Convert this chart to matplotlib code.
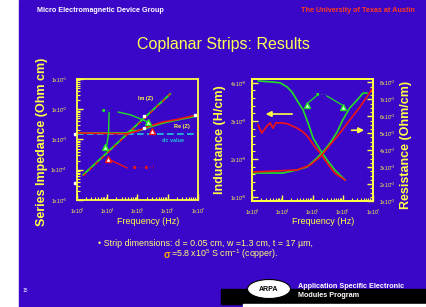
import numpy as np
import matplotlib.pyplot as plt
from matplotlib.patches import Rectangle, Ellipse
from matplotlib.ticker import AutoMinorLocator, LogLocator, NullFormatter

plt.rcParams['font.family'] = ['Liberation Sans', 'DejaVu Sans']
plt.rcParams['mathtext.fontset'] = 'custom'
plt.rcParams['mathtext.rm'] = 'Liberation Sans'
plt.rcParams['mathtext.default'] = 'regular'

# ---- left plot: series impedance (Ohm/cm) vs frequency (Hz)
im_f = [1.6e3, 1e4, 1e5, 1e6, 1.2e6]
im_z_green = [6.8e-5, 3.7e-4, 3.2e-3, 2.7e-2, 3.2e-2]
im_z_red = [6.2e-5, 3.5e-4, 3.0e-3, 2.6e-2, 3.3e-2]
re_f_green = [1e3, 4.5e4, 5.6e4, 1.2e5, 2.6e5, 6.9e5, 2.0e6, 9.3e6]
re_z_green = [1.64e-3, 1.64e-3, 1.9e-3, 2.0e-3, 2.6e-3, 3.5e-3, 4.4e-3, 6.0e-3]
re_f_red = [1e3, 4.5e4, 9.6e4, 2.6e5, 6.9e5, 2.0e6, 9.3e6]
re_z_red = [1.64e-3, 1.55e-3, 1.9e-3, 2.8e-3, 3.8e-3, 4.6e-3, 6.5e-3]
dc_f = [1e3, 1e7]
dc_z = [1.5e-3, 1.5e-3]
freq_ticks = [1e3, 1e4, 1e5, 1e6, 1e7]
freq_labels = [r"1x10$^{3}$", r"1x10$^{4}$", r"1x10$^{5}$", r"1x10$^{6}$", r"1x10$^{7}$"]
z_ticks = [1e-5, 1e-4, 1e-3, 1e-2, 1e-1]
z_labels = [r"1x10$^{-5}$", r"1x10$^{-4}$", r"1x10$^{-3}$", r"1x10$^{-2}$", r"1x10$^{-1}$"]

# ---- right plot: inductance (left axis) and resistance (right axis)
l_f_green = [1.6e3, 4.9e3, 8.5e3, 1.45e4, 2.1e4, 3.3e4, 4.9e4, 7.1e4, 1.05e5, 1.8e5, 3.0e5, 5.5e5, 1.2e6]
l_green = [4.05, 4.02, 4.0, 3.89, 3.76, 3.50, 3.29, 2.95, 2.55, 2.24, 1.98, 1.71, 1.45]
l_f_red = [1.6e3, 2.1e3, 2.9e3, 4.0e3, 4.9e3, 6.2e3, 9.8e3, 1.55e4, 3.1e4, 4.9e4, 7.1e4,
           1.2e5, 1.8e5, 3.0e5, 5.5e5, 1.2e6]
l_red = [2.89, 2.68, 2.84, 2.95, 2.81, 2.95, 2.95, 2.92, 2.81, 2.71, 2.58, 2.32, 2.16, 1.90, 1.63, 1.45]
r_f_green = [1e3, 1.05e4, 3.1e4, 6.6e4, 1.4e5, 2.2e5, 3.8e5, 6.5e5, 1.0e6, 1.7e6, 3.0e6, 4.7e6, 6.3e6]
r_green = [2.65, 2.65, 2.83, 3.01, 3.54, 3.89, 4.42, 5.07, 5.78, 6.49, 6.96, 7.37, 7.37]
r_f_red = [1e3, 3.1e4, 8.3e4, 1.8e5, 3.8e5, 8.1e5, 1.7e6, 3.7e6, 1e7]
r_red = [2.71, 2.83, 3.12, 3.60, 4.31, 5.01, 5.78, 6.55, 7.67]
l_ticks = [1, 2, 3, 4]
l_labels = [r"%dx10$^{-8}$" % k for k in l_ticks]
r_ticks = [1, 2, 3, 4, 5, 6, 7, 8]
r_labels = [r"%dx10$^{-3}$" % k for k in r_ticks]

W, H = 427, 307
YEL = '#ffff44'
GRN = '#22e022'
RED = '#f01414'
CYA = '#22c8d8'
PUR = '#3a06c8'

fig = plt.figure(figsize=(W / 100, H / 100), dpi=100)
bg = fig.add_axes([0, 0, 1, 1])
bg.set_xlim(0, W)
bg.set_ylim(H, 0)
bg.axis('off')

# slide background
bg.add_patch(Rectangle((0, 0), W, H, color='white'))
bg.add_patch(Rectangle((19, 0), W - 19, H, color=PUR))
yy, xx = np.mgrid[19:288, 35:411]
d = np.sqrt(((xx - 215) / 230.0) ** 2 + ((yy - 130) / 165.0) ** 2)
t = np.clip(1 - d, 0, 1) ** 1.2
grad = t[..., None] * np.array([0.17, 0.07, 0.52])
bg.imshow(grad, extent=(35, 411, 288, 19), origin='upper', aspect='auto')
hy, hx = np.mgrid[0:19, 19:320]
glow = np.exp(-((hx - 125) / 100.0) ** 2 - ((hy - 11) / 4.5) ** 2)
rgba = np.zeros(glow.shape + (4,))
rgba[..., 0], rgba[..., 1], rgba[..., 2] = 0.92, 0.3, 0.45
rgba[..., 3] = glow * 0.9
bg.imshow(rgba, extent=(19, 320, 19, 0), origin='upper', aspect='auto')
bg.add_patch(Rectangle((219, 272), W - 219, 17, color=PUR))
bg.add_patch(Rectangle((221, 289), W - 221, 15, color='black'))
bg.add_patch(Rectangle((243, 304), W - 243, 3, color='white'))
bg.set_xlim(0, W)
bg.set_ylim(H, 0)

bg.text(37, 11, "Micro Electromagnetic Device Group", color='white', fontsize=5.2,
        fontweight='bold', ha='left', va='center')
bg.text(415, 11, "The University of Texas at Austin", color='#ff3a1a', fontsize=5.2,
        fontweight='bold', ha='right', va='center')
bg.text(223, 44, "Coplanar Strips: Results", color='#ffff55', fontsize=11.5,
        ha='center', va='center')
bg.text(42, 142, "Series Impedance (Ohm cm)", color=YEL, fontsize=9, fontweight='bold',
        rotation=90, ha='center', va='center')
bg.text(220, 140, "Inductance (H/cm)", color=YEL, fontsize=9, fontweight='bold',
        rotation=90, ha='center', va='center')
bg.text(406, 145, "Resistance (Ohm/cm)", color=YEL, fontsize=9, fontweight='bold',
        rotation=90, ha='center', va='center')
bg.text(148, 222, "Frequency (Hz)", color=YEL, fontsize=6.5, ha='center', va='center')
bg.text(323, 222, "Frequency (Hz)", color=YEL, fontsize=6.5, ha='center', va='center')
bg.text(98, 243, "\u2022 Strip dimensions: d = 0.05 cm, w =1.3 cm, t = 17 \u00b5m,",
        color='#ffff77', fontsize=6.4, ha='left', va='center')
bg.text(164, 255, "\u03c3", color='#ffaa00', fontsize=7, fontweight='bold', ha='left', va='center')
bg.text(171, 254, r"=5.8 x10$^{5}$ S cm$^{-1}$ (copper).", color='#ffff77', fontsize=6.4,
        ha='left', va='center')
bg.text(298, 286, "Application Specific Electronic", color='white', fontsize=5.2,
        fontweight='bold', ha='left', va='center')
bg.text(298, 295.5, "Modules Program", color='white', fontsize=5.2,
        fontweight='bold', ha='left', va='center')
bg.add_patch(Ellipse((269, 289), 43, 19, fc='white', ec='black', lw=0.8))
bg.text(269, 289.5, "ARPA", color='black', fontsize=5, fontweight='bold',
        ha='center', va='center')
bg.text(25, 290, "15", color='white', fontsize=3.5, ha='center', va='center')


def style(ax):
    ax.set_facecolor('none')
    for s in ax.spines.values():
        s.set_color(YEL)
        s.set_linewidth(1.3)
    ax.tick_params(which='both', direction='in', colors=YEL, labelsize=3.6,
                   labelcolor=YEL)
    ax.tick_params(which='major', length=4, width=1)
    ax.tick_params(which='minor', length=2, width=0.8)


# ---- left plot
ax1 = fig.add_axes([77 / W, 1 - 200 / H, 121 / W, 121 / H])
style(ax1)
ax1.set_xscale('log')
ax1.set_yscale('log')
ax1.plot(dc_f, dc_z, color=CYA, lw=1.2, ls=(0, (4, 2)))
ax1.plot(im_f, im_z_green, color=GRN, lw=1.4)
ax1.plot(im_f, im_z_red, color=RED, lw=1.0, ls=(0, (3, 3)))
ax1.plot(re_f_green, re_z_green, color=GRN, lw=1.3)
ax1.plot(re_f_red, re_z_red, color=RED, lw=1.2)
# pointers
ax1.plot([1.15e4, 1.1e4, 9.5e3], [7.6e-3, 1.5e-3, 6.0e-4], color=GRN, lw=1.0)
ax1.plot([2.3e4, 6e4, 2.2e5], [8.1e-3, 6.5e-3, 3.8e-3], color=GRN, lw=1.0)
ax1.plot([8.5e3, 2.2e5], [5.6e-4, 3.8e-3], ls='none', marker='^', ms=5,
         mfc='#ccffcc', mec=GRN, mew=1)
ax1.plot([1.05e4, 4.5e4], [2.3e-4, 1.15e-4], color=RED, lw=1.0)
ax1.plot([1.05e4, 3.0e5], [2.3e-4, 1.9e-3], ls='none', marker='^', ms=5,
         mfc='white', mec=RED, mew=1)
ax1.plot([1.6e5, 1.6e5, 8e6], [6e-3, 2.4e-3, 6.5e-3], ls='none', marker='s', ms=2,
         color='white')
ax1.plot([8.6e2, 8.6e2], [1.5e-3, 3.6e-5], ls='none', marker='s', ms=2,
         color='white', clip_on=False)
ax1.text(1.9e5, 2.3e-2, "Im (Z)", color=YEL, fontsize=4, fontweight='bold',
         ha='center', va='center')
ax1.text(3.0e6, 2.6e-3, "Re (Z)", color=YEL, fontsize=4, fontweight='bold',
         ha='center', va='center')
ax1.text(1.5e6, 9.5e-4, "dc value", color=CYA, fontsize=4, fontweight='bold',
         ha='center', va='center')
ax1.text(1.0e4, 9.0e-3, "\u25a0 - \u02c8", color=GRN, fontsize=4, ha='center', va='center')
ax1.text(1.6e5, 1.15e-4, "\u25a0 - - \u25a0 - !", color=RED, fontsize=4,
         ha='center', va='center')
ax1.set_xlim(1e3, 1e7)
ax1.set_ylim(1e-5, 1e-1)
ax1.set_xticks(freq_ticks)
ax1.set_xticklabels(freq_labels)
ax1.set_yticks(z_ticks)
ax1.set_yticklabels(z_labels)
ax1.xaxis.set_minor_locator(LogLocator(subs=np.arange(2, 10)))
ax1.yaxis.set_minor_locator(LogLocator(subs=np.arange(2, 10)))
ax1.xaxis.set_minor_formatter(NullFormatter())
ax1.yaxis.set_minor_formatter(NullFormatter())
ax1.tick_params(axis='y', pad=7)
ax1.tick_params(axis='x', pad=5)

# ---- right plot
ax2 = fig.add_axes([252 / W, 1 - 201 / H, 121 / W, 122 / H])
style(ax2)
ax2.set_xscale('log')
ax2.plot(l_f_green, l_green, color=GRN, lw=1.2)
ax2.plot(l_f_red, l_red, color=RED, lw=1.2)
ax2.set_xlim(1e3, 1e7)
ax2.set_ylim(0.9, 4.1)
ax2.set_xticks(freq_ticks)
ax2.set_xticklabels(freq_labels)
ax2.set_yticks(l_ticks)
ax2.set_yticklabels(l_labels)
ax2.xaxis.set_minor_locator(LogLocator(subs=np.arange(2, 10)))
ax2.xaxis.set_minor_formatter(NullFormatter())
ax2.yaxis.set_minor_locator(AutoMinorLocator(5))
ax2.tick_params(axis='y', pad=4)
ax2.tick_params(axis='x', pad=5)

ax3 = ax2.twinx()
style(ax3)
ax3.plot(r_f_green, r_green, color=GRN, lw=1.2)
ax3.plot(r_f_red, r_red, color=RED, lw=1.2)
ax3.set_ylim(1, 8.2)
ax3.set_yticks(r_ticks)
ax3.set_yticklabels(r_labels)
ax3.yaxis.set_minor_locator(AutoMinorLocator(4))
ax3.tick_params(axis='y', pad=4)

arrow = dict(arrowstyle='-|>', color=YEL, lw=1.2, mutation_scale=8)
ax3.annotate('', xy=(0.09, 0.713), xytext=(0.355, 0.713), xycoords='axes fraction',
             arrowprops=arrow)
ax3.annotate('', xy=(0.95, 0.58), xytext=(0.80, 0.58), xycoords='axes fraction',
             arrowprops=arrow)
ax3.plot([0.455, 0.752], [0.787, 0.77], ls='none', marker='^', ms=5, mfc='#ccffcc',
         mec=GRN, mew=1, transform=ax3.transAxes)
ax3.plot([0.47, 0.53], [0.81, 0.86], color=GRN, lw=0.9, transform=ax3.transAxes)
ax3.plot([0.62, 0.74], [0.86, 0.79], color=GRN, lw=0.9, transform=ax3.transAxes)
ax3.text(0.57, 0.877, "\u25a0 - -", color=GRN, fontsize=4, ha='center', va='center',
         transform=ax3.transAxes)

fig.savefig('out.png', dpi=100)
